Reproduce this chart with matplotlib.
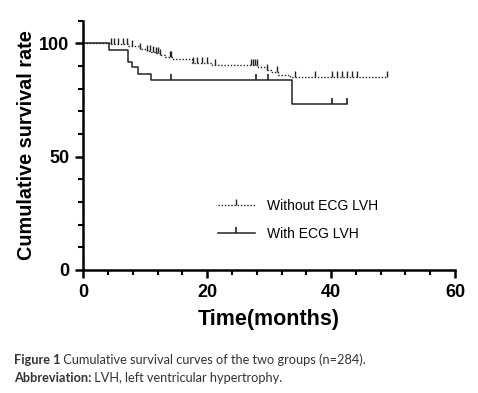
import matplotlib
matplotlib.use("Agg")
import matplotlib.pyplot as plt
from matplotlib.path import Path
from matplotlib.lines import Line2D

# Without ECG LVH (dotted) - step times and survival after each step
t_without = [0, 4.4, 7.2, 9.2, 10.3, 11.0, 11.8, 12.4, 13.2, 14.5, 17.6, 20.8, 28.2, 29.7, 30.3, 31.5, 33.4, 49.0]
s_without = [100, 99.7, 99.1, 97.5, 96.8, 96.2, 95.6, 95.0, 94.0, 93.0, 91.4, 90.3, 89.7, 88.2, 87.3, 86.3, 85.0, 85.0]
c_without = [4.5, 5.0, 5.6, 6.4, 7.0, 7.9, 9.2, 10.3, 10.8, 11.3, 11.8, 12.1, 12.4, 14.0, 14.2,
             17.7, 18.4, 19.2, 20.0, 21.3, 27.1, 27.4, 27.7, 28.0, 29.7, 31.3,
             34.2, 37.4, 40.2, 41.0, 41.8, 42.6, 43.4, 44.2, 49.0]

# With ECG LVH (solid)
t_with = [0, 4.1, 7.3, 7.8, 8.9, 11.0, 33.7, 42.6]
s_with = [100, 97.3, 91.7, 89.4, 86.6, 83.9, 73.3, 73.3]
c_with = [14.2, 27.9, 29.8, 40.2, 42.6]


def surv_at(times, surv, t):
    val = surv[0]
    for ti, si in zip(times, surv):
        if ti <= t:
            val = si
    return val


tick = Path([(0, 0), (0, 1)])

fig = plt.figure(figsize=(4.78, 3.93), dpi=100)
ax = fig.add_axes([0.174, 0.313, 0.778, 0.634])

ax.step(t_without, s_without, where='post', color='#222222', lw=1.0, ls=(0, (1, 1.3)))
ax.plot(c_without, [surv_at(t_without, s_without, c) for c in c_without], ls='none',
        marker=tick, ms=8, mew=1.0, color='#222222')
ax.step(t_with, s_with, where='post', color='#222222', lw=1.1)
ax.plot(c_with, [surv_at(t_with, s_with, c) for c in c_with], ls='none',
        marker=tick, ms=8, mew=1.2, color='#222222')

ax.set_xlim(0, 60)
ax.set_ylim(0, 110)
ax.spines['top'].set_visible(False)
ax.spines['right'].set_visible(False)
ax.spines['left'].set_linewidth(1.8)
ax.spines['bottom'].set_linewidth(1.8)
ax.set_xticks([0, 20, 40, 60])
ax.set_xticks(range(0, 61, 4), minor=True)
ax.set_yticks([0, 50, 100])
ax.set_yticks(range(0, 111, 10), minor=True)
ax.tick_params(which='major', length=6, width=1.8, labelsize=13, pad=4)
ax.tick_params(which='minor', length=3.5, width=1.5)
for lab in ax.get_xticklabels() + ax.get_yticklabels():
    lab.set_fontweight('bold')
    lab.set_family('Liberation Sans')

ax.set_xlabel("Time(months)", fontsize=15.5, fontweight='bold', family='Liberation Sans', labelpad=6)
ax.set_ylabel("Cumulative survival rate", fontsize=14.3, fontweight='bold', family='Liberation Sans', labelpad=2)

handles = [
    Line2D([], [], color='#222222', lw=1.0, ls=(0, (1, 1.3)), marker=tick, ms=8, mew=1.0),
    Line2D([], [], color='#222222', lw=1.1, marker=tick, ms=8, mew=1.2),
]
ax.legend(handles, ["Without ECG LVH", "With ECG LVH"], loc='upper left',
          bbox_to_anchor=(0.33, 0.335), frameon=False, numpoints=1,
          handlelength=2.6, handletextpad=0.9, labelspacing=1.0,
          prop={'family': 'Liberation Sans', 'size': 10})

# caption
fig.canvas.draw()
r = fig.canvas.get_renderer()
cap_font = 'Lato'
t1 = fig.text(0.029, 0.073, "Figure 1", fontsize=9.2, fontweight='bold', family=cap_font, color='#333333')
t2 = fig.text(0.029, 0.027, "Abbreviation:", fontsize=9.2, fontweight='bold', family=cap_font, color='#333333')
for tb, rest in [(t1, " Cumulative survival curves of the two groups (n=284)."),
                 (t2, " LVH, left ventricular hypertrophy.")]:
    bb = tb.get_window_extent(r)
    x = bb.x1 / fig.bbox.width
    fig.text(x, tb.get_position()[1], rest, fontsize=9.2, family=cap_font, color='#333333')

fig.savefig("out.png", dpi=100)
